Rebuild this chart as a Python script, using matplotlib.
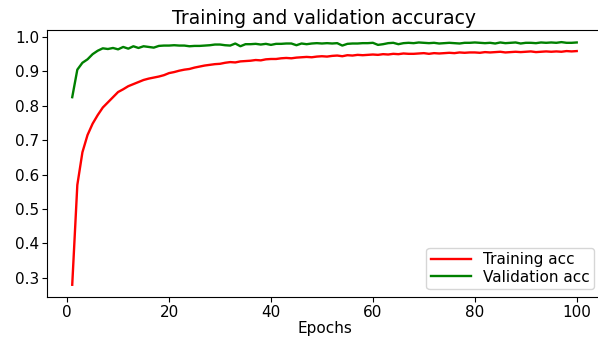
import matplotlib
matplotlib.use("Agg")
import matplotlib.pyplot as plt

# accuracy per epoch
train_acc = [0.280, 0.570, 0.665, 0.715, 0.748, 0.773, 0.795, 0.810, 0.825, 0.840,
             0.848, 0.857, 0.863, 0.869, 0.875, 0.879, 0.882, 0.885, 0.889, 0.895,
             0.898, 0.902, 0.905, 0.907, 0.911, 0.914, 0.917, 0.919, 0.921, 0.922,
             0.925, 0.927, 0.926, 0.929, 0.930, 0.931, 0.933, 0.932, 0.935, 0.936,
             0.936, 0.938, 0.939, 0.938, 0.940, 0.941, 0.942, 0.941, 0.943, 0.944,
             0.943, 0.945, 0.946, 0.944, 0.947, 0.946, 0.948, 0.947, 0.948, 0.949,
             0.948, 0.950, 0.949, 0.951, 0.950, 0.952, 0.951, 0.951, 0.952, 0.953,
             0.951, 0.953, 0.952, 0.953, 0.954, 0.953, 0.955, 0.954, 0.955, 0.955,
             0.954, 0.956, 0.955, 0.956, 0.957, 0.955, 0.956, 0.957, 0.956, 0.957,
             0.958, 0.956, 0.957, 0.958, 0.957, 0.958, 0.957, 0.959, 0.958, 0.959]
val_acc = [0.825, 0.905, 0.925, 0.935, 0.950, 0.960, 0.967, 0.965, 0.968, 0.964,
           0.971, 0.966, 0.973, 0.968, 0.973, 0.971, 0.969, 0.974, 0.975, 0.975,
           0.976, 0.975, 0.975, 0.973, 0.974, 0.974, 0.975, 0.976, 0.978, 0.978,
           0.976, 0.975, 0.981, 0.973, 0.979, 0.979, 0.980, 0.978, 0.980, 0.977,
           0.980, 0.980, 0.981, 0.981, 0.976, 0.981, 0.979, 0.981, 0.982, 0.981,
           0.982, 0.981, 0.982, 0.975, 0.980, 0.981, 0.981, 0.982, 0.982, 0.983,
           0.977, 0.979, 0.982, 0.983, 0.979, 0.982, 0.983, 0.982, 0.984, 0.983,
           0.982, 0.983, 0.981, 0.982, 0.983, 0.982, 0.981, 0.983, 0.983, 0.984,
           0.983, 0.982, 0.983, 0.981, 0.984, 0.982, 0.983, 0.984, 0.981, 0.983,
           0.983, 0.982, 0.984, 0.983, 0.984, 0.983, 0.985, 0.983, 0.983, 0.984]
epochs = list(range(1, len(train_acc) + 1))

fig = plt.figure(figsize=(5.98, 3.37), dpi=100)
ax = fig.add_axes([0.0786, 0.119, 0.928, 0.792])
ax.plot(epochs, train_acc, 'r', label='Training acc', linewidth=1.7)
ax.plot(epochs, val_acc, 'g', label='Validation acc', linewidth=1.7)
ax.set_title('Training and validation accuracy', fontsize=13.5, pad=4)
ax.set_xlabel('Epochs', fontsize=11, labelpad=1)
ax.tick_params(labelsize=11, pad=2)
ax.legend(loc='lower right', fontsize=11, borderaxespad=0.5,
          labelspacing=0.15, borderpad=0.3, handlelength=2.6)
fig.savefig('out.png', dpi=100)
